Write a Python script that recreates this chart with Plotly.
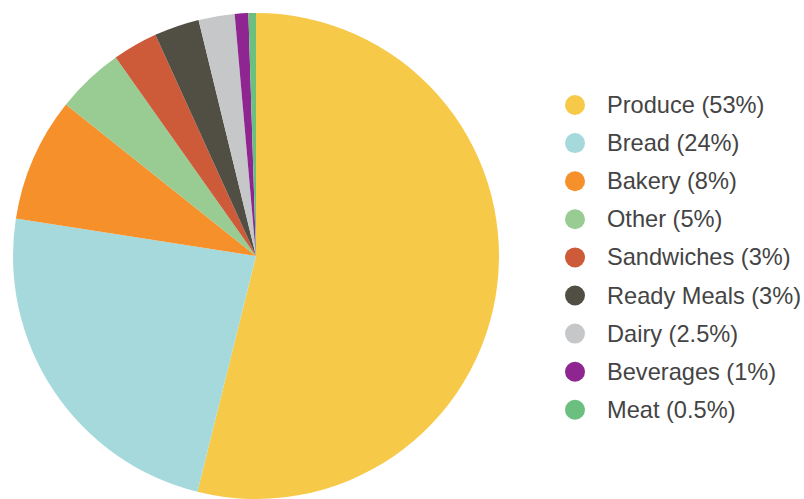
import plotly.graph_objects as go

categories = ["Produce", "Bread", "Bakery", "Other", "Sandwiches", "Ready Meals", "Dairy", "Beverages", "Meat"]
# slice sizes
values = [53.9, 23.6, 8.25, 4.5, 3.0, 3.0, 2.4, 0.9, 0.5]
# percentages printed in the legend
legend_pcts = ["53%", "24%", "8%", "5%", "3%", "3%", "2.5%", "1%", "0.5%"]
colors = ["#F7C948", "#A5D9DC", "#F6902B", "#98CC92", "#CD5B3A", "#514F44", "#C6C7C9", "#8E2590", "#6BBF7F"]
labels = [f"{c} ({p})" for c, p in zip(categories, legend_pcts)]

W, H = 804, 499
cx, cy, r = 256, 256, 243

fig = go.Figure()
fig.add_trace(go.Pie(
    labels=categories, values=values, sort=False, direction="clockwise", rotation=0,
    marker=dict(colors=colors, line=dict(width=0)),
    textinfo="none", hoverinfo="label", showlegend=False,
    domain=dict(x=[(cx - r) / W, (cx + r) / W],
                y=[max(0, (H - cy - r) / H), min(1, (H - cy + r) / H)]),
))

# legend drawn with circle markers
y0, dy = 105, 38.1
ys = [y0 + dy * i for i in range(len(categories))]
fig.add_trace(go.Scatter(
    x=[575] * len(categories), y=ys, mode="markers",
    marker=dict(size=20, color=colors, line=dict(width=0)),
    showlegend=False, hoverinfo="skip", xaxis="x", yaxis="y",
))
annotations = [dict(x=605, y=yy, xref="x", yref="y", text=t, showarrow=False,
                    xanchor="left", yanchor="middle",
                    font=dict(family="Liberation Sans, Arial, sans-serif", size=23.6, color="#444444"))
               for yy, t in zip(ys, labels)]

fig.update_layout(
    width=W, height=H, margin=dict(l=0, r=0, t=0, b=0),
    paper_bgcolor="white", plot_bgcolor="rgba(0,0,0,0)",
    xaxis=dict(range=[0, W], visible=False, fixedrange=True, domain=[0, 1]),
    yaxis=dict(range=[H, 0], visible=False, fixedrange=True, domain=[0, 1]),
    annotations=annotations,
    showlegend=False,
)

fig.write_html(
    "out.html",
    config={"displayModeBar": False},
    post_script="document.body.style.margin='0';document.body.style.overflow='hidden';",
)
